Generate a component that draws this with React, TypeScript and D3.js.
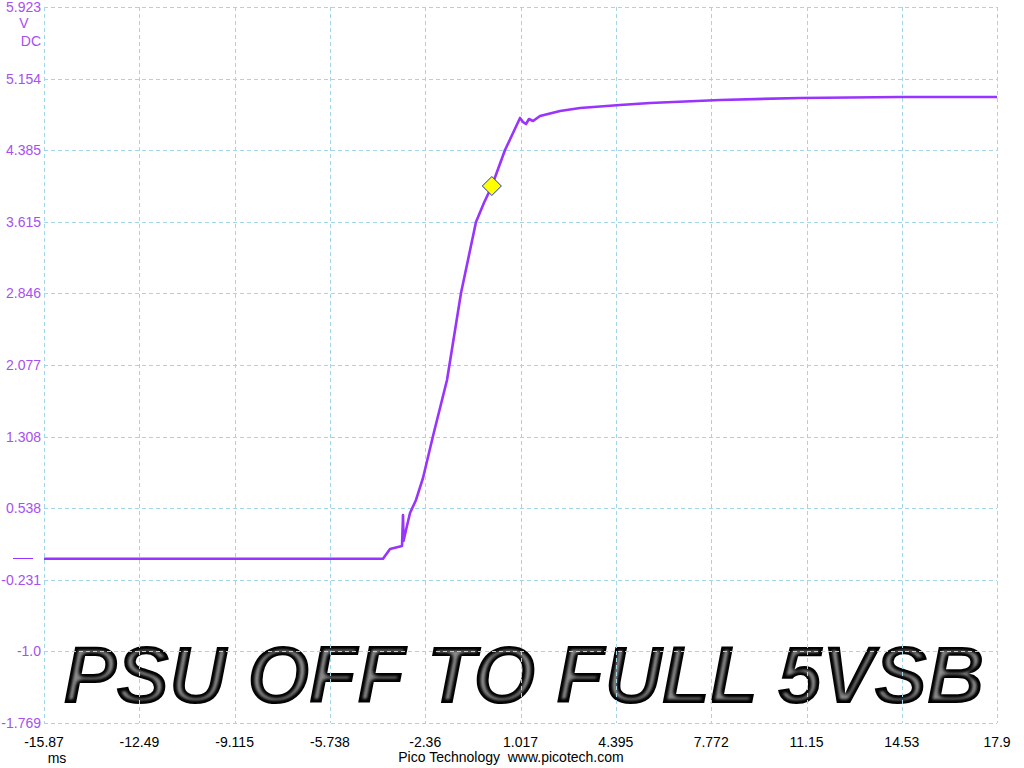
import React from "react";
import * as d3 from "d3";

// time (ms) and voltage (V) of the trace
const timeMs: number[] = [
  -15.87, -3.857, -3.609, -3.184, -3.148, -3.13, -3.042, -2.9, -2.688, -2.44, -2.085,
  -1.589, -1.093, -0.562, -0.278, 0.0, 0.466, 0.75, 0.998, 1.104, 1.21, 1.316,
  1.458, 1.706, 2.415, 3.124, 4.541, 5.604, 8.085, 10.92, 14.463, 17.9,
];
const volts: number[] = [
  -0.005, -0.005, 0.1, 0.133, 0.466, 0.186, 0.304, 0.487, 0.627, 0.863, 1.314,
  1.916, 2.851, 3.613, 3.82, 4.0, 4.387, 4.569, 4.731, 4.688, 4.666, 4.72,
  4.698, 4.752, 4.806, 4.838, 4.87, 4.892, 4.924, 4.946, 4.956, 4.956,
];

const xTickLabels: string[] = ["-15.87", "-12.49", "-9.115", "-5.738", "-2.36", "1.017", "4.395", "7.772", "11.15", "14.53", "17.9"];
const yTickLabels: string[] = ["5.923", "5.154", "4.385", "3.615", "2.846", "2.077", "1.308", "0.538", "-0.231", "-1.0", "-1.769"];

const triggerTime = 0.0;
const triggerVolt = 4.0;
const title = "PSU OFF TO FULL 5VSB";

const W = 1024;
const H = 768;
const L = 44, R = 997, T = 7, B = 723;

export default function App() {
  const x = d3.scaleLinear().domain([-15.87, 17.9]).range([L, R]);
  const y = d3.scaleLinear().domain([-1.769, 5.923]).range([B, T]);
  const xTicks = xTickLabels.map((s) => +s);
  const yTicks = yTickLabels.map((s) => +s);
  const pts: [number, number][] = timeMs.map((t, i) => [t, volts[i]]);
  const line = d3
    .line<[number, number]>()
    .x((d) => x(d[0]))
    .y((d) => y(d[1]));

  const grid = "#a2d6e8";
  const purple = "#9933ff";
  const labelPurple = "#a650f2";
  const font = "'Liberation Sans', Arial, sans-serif";

  const mx = x(triggerTime);
  const my = y(triggerVolt);
  const ds = 9.5;

  return (
    <svg
      width={W}
      height={H}
      style={{ position: "absolute", left: 0, top: 0, background: "#fff" }}
      fontFamily={font}
    >
      <defs>
        <filter id="tube" x="-5%" y="-20%" width="110%" height="140%" colorInterpolationFilters="sRGB">
          <feGaussianBlur in="SourceAlpha" stdDeviation="2.8" result="blur" />
          <feComponentTransfer in="blur" result="sharp">
            <feFuncA type="gamma" amplitude="1" exponent="10" offset="0" />
          </feComponentTransfer>
          <feColorMatrix
            in="sharp"
            type="matrix"
            values="0 0 0 0.55 0  0 0 0 0.55 0  0 0 0 0.55 0  0 0 0 0 1"
            result="grey"
          />
          <feComposite in="grey" in2="SourceAlpha" operator="in" />
        </filter>
      </defs>

      <rect x={0} y={0} width={W} height={H} fill="#fff" />

      {/* title */}
      <text
        x={63}
        y={703}
        fontSize={81}
        fontWeight="bold"
        fontStyle="italic"
        fill="#000"
        textLength={922}
        lengthAdjust="spacing"
        filter="url(#tube)"
      >
        {title}
      </text>

      {/* grid */}
      <g stroke={grid} strokeWidth={1} strokeDasharray="4,3" fill="none">
        {xTicks.map((t, i) => (
          <line key={"gx" + i} x1={Math.round(x(t)) + 0.5} x2={Math.round(x(t)) + 0.5} y1={T} y2={B} />
        ))}
        {yTicks.map((v, i) => (
          <line key={"gy" + i} x1={L} x2={R} y1={Math.round(y(v)) + 0.5} y2={Math.round(y(v)) + 0.5} />
        ))}
      </g>

      {/* y labels */}
      <g fontSize={14} fill={labelPurple} textAnchor="end">
        {yTickLabels.map((s, i) => (
          <text key={"yl" + i} x={41} y={i === 0 ? 12 : y(yTicks[i]) + 5}>
            {s}
          </text>
        ))}
        <text x={24} y={28} textAnchor="middle">V</text>
        <text x={41} y={46}>DC</text>
      </g>
      {/* zero marker */}
      <line x1={13} x2={33} y1={Math.round(y(0)) + 0.5} y2={Math.round(y(0)) + 0.5} stroke={purple} strokeWidth={1} />

      {/* x labels */}
      <g fontSize={14} fill="#000" textAnchor="middle">
        {xTickLabels.map((s, i) => (
          <text key={"xl" + i} x={x(xTicks[i])} y={747}>
            {s}
          </text>
        ))}
        <text x={57} y={763}>ms</text>
        <text x={511} y={762} style={{ whiteSpace: "pre" }}>{"Pico Technology  www.picotech.com"}</text>
      </g>

      {/* trace */}
      <path d={line(pts) || ""} fill="none" stroke={purple} strokeWidth={2.6} strokeLinejoin="round" />

      {/* trigger marker */}
      <path
        d={`M${mx},${my - ds} L${mx + ds},${my} L${mx},${my + ds} L${mx - ds},${my} Z`}
        fill="#ffff00"
        stroke="#2233cc"
        strokeWidth={1}
      />
    </svg>
  );
}
